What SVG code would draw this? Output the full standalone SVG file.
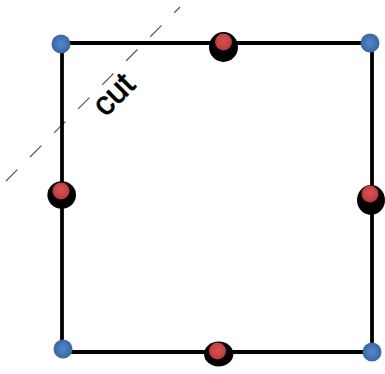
<svg xmlns="http://www.w3.org/2000/svg" width="385" height="374" viewBox="0 0 385 374">
<defs>
<radialGradient id="gBlue" cx="0.5" cy="0.5" r="0.5">
<stop offset="0" stop-color="#4f8ad0"/>
<stop offset="0.5" stop-color="#4678b8"/>
<stop offset="1" stop-color="#3a65a0"/>
</radialGradient>
<radialGradient id="gRed" cx="0.5" cy="0.45" r="0.55">
<stop offset="0" stop-color="#d85050"/>
<stop offset="0.6" stop-color="#c94444"/>
<stop offset="1" stop-color="#b03838"/>
</radialGradient>
<style>
.edge{stroke:#000;stroke-width:3.8;fill:none;stroke-linecap:square}
.cut{stroke:#555;stroke-width:1.2;stroke-dasharray:16 18;fill:none}
.corner{fill:url(#gBlue)}
.shadow{fill:#000}
.mid{fill:url(#gRed)}
.lbl{font-family:"Liberation Sans",Arial,sans-serif;font-size:33px;fill:#000;stroke:#000;stroke-width:0.8}
</style>
</defs>
<g id="connectors">
<line class="cut" x1="6" y1="181" x2="180" y2="7"/>
<line class="edge" x1="61" y1="43" x2="370" y2="43"/>
<line class="edge" x1="62" y1="43" x2="62" y2="350"/>
<line class="edge" x1="372" y1="43" x2="372" y2="352"/>
<line class="edge" x1="63" y1="352" x2="372" y2="352"/>
</g>
<g id="label-cut">
<text class="lbl" x="0" y="0" text-anchor="middle" dominant-baseline="central" transform="translate(113,94) rotate(-45)">cut</text>
</g>
<g id="corner-tl"><circle class="corner" cx="61" cy="44" r="9.5"/></g>
<g id="corner-tr"><circle class="corner" cx="370" cy="43" r="9.5"/></g>
<g id="corner-bl"><circle class="corner" cx="63" cy="349" r="9.5"/></g>
<g id="corner-br"><circle class="corner" cx="372" cy="352" r="9.5"/></g>
<g id="mid-top">
<ellipse class="shadow" cx="223.5" cy="47" rx="14.5" ry="15"/>
<circle class="mid" cx="223.5" cy="42" r="8.5"/>
</g>
<g id="mid-left">
<ellipse class="shadow" cx="61.7" cy="195" rx="14.3" ry="13.7"/>
<circle class="mid" cx="61" cy="191" r="8.5"/>
</g>
<g id="mid-right">
<ellipse class="shadow" cx="371" cy="200" rx="14" ry="15"/>
<circle class="mid" cx="370" cy="194" r="8.5"/>
</g>
<g id="mid-bottom">
<ellipse class="shadow" cx="218.7" cy="354" rx="14.7" ry="12.5"/>
<circle class="mid" cx="217.5" cy="351" r="8.5"/>
</g>
</svg>
